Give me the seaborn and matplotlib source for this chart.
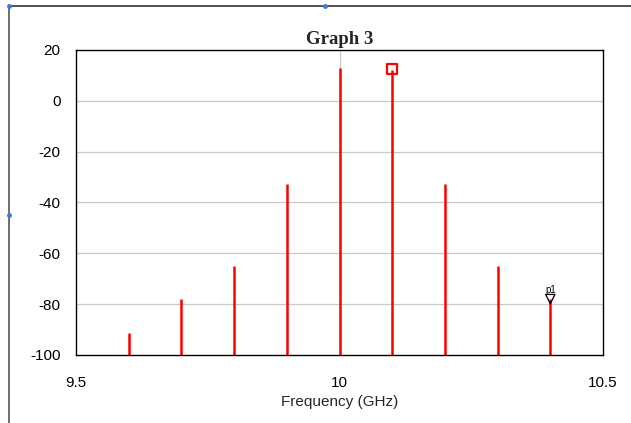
import matplotlib
matplotlib.use("Agg")
import matplotlib.pyplot as plt
import seaborn as sns
import pandas as pd
from matplotlib.lines import Line2D

freq_ghz = [9.6, 9.7, 9.8, 9.9, 10.0, 10.1, 10.2, 10.3, 10.4]
power_db = [-91.3, -78.0, -65.0, -32.7, 12.9, 12.3, -32.7, -65.0, -78.0]
x_ticks = [9.5, 10, 10.5]
x_tick_labels = ["9.5", "10", "10.5"]
y_ticks = [-100, -80, -60, -40, -20, 0, 20]
marker_sq = (10.1, 12.5)
marker_p1 = (10.4, -78.0)

df = pd.DataFrame({"freq": freq_ghz, "power": power_db})

sns.set_style("white")
plt.rcParams["font.family"] = ["Liberation Sans", "DejaVu Sans"]
plt.rcParams["axes.unicode_minus"] = False

fig = plt.figure(figsize=(6.31, 4.23), dpi=100)
ax = fig.add_axes([76/631, 1 - 355/423, (603-76)/631, (355-50)/423])

ax.set_xlim(9.5, 10.5)
ax.set_ylim(-100, 20)

# gridlines
for yv in y_ticks[1:-1]:
    ax.axhline(yv, color="#c8c8c8", lw=0.9, zorder=0)
ax.axvline(10, color="#c8c8c8", lw=0.9, zorder=0)

ax.vlines(df["freq"], -100, df["power"], color="#ff0000", lw=1.8, zorder=2)

sns.scatterplot(x=[marker_sq[0]], y=[marker_sq[1]], ax=ax, marker="s", s=55,
                facecolor="none", edgecolor="#ff0000", linewidth=1.6, zorder=3)
sns.scatterplot(x=[marker_p1[0]], y=[marker_p1[1]], ax=ax, marker="v", s=45,
                facecolor="none", edgecolor="black", linewidth=0.9, zorder=3)
ax.text(marker_p1[0], marker_p1[1] + 1.5, "p1", ha="center", va="bottom",
        fontsize=7, color="black")

ax.set_xticks(x_ticks)
ax.set_xticklabels(x_tick_labels)
ax.set_yticks(y_ticks)
ax.tick_params(axis="both", length=0, labelsize=11, colors="black")
ax.tick_params(axis="x", pad=15)
ax.tick_params(axis="y", pad=11)
for s in ax.spines.values():
    s.set_color("black")
    s.set_linewidth(1.0)

ax.set_xlabel("Frequency (GHz)", fontsize=11, labelpad=4)
ax.set_ylabel("")
ax.set_title("Graph 3", fontsize=13.5, fontweight="bold",
             family=["Liberation Serif", "DejaVu Serif"], pad=4)

# frame decorations
fig.add_artist(Line2D([9/631, 1], [1 - 6/423, 1 - 6/423], color="#333333", lw=1.2))
fig.add_artist(Line2D([9/631, 9/631], [0, 1 - 6/423], color="#555555", lw=1.2))
for px, py in [(9, 6), (325, 6), (9, 215)]:
    fig.add_artist(Line2D([px/631], [1 - py/423], marker="o", ms=2.5,
                          color="#3a7bd5", lw=0))

fig.savefig("out.png", dpi=100)
